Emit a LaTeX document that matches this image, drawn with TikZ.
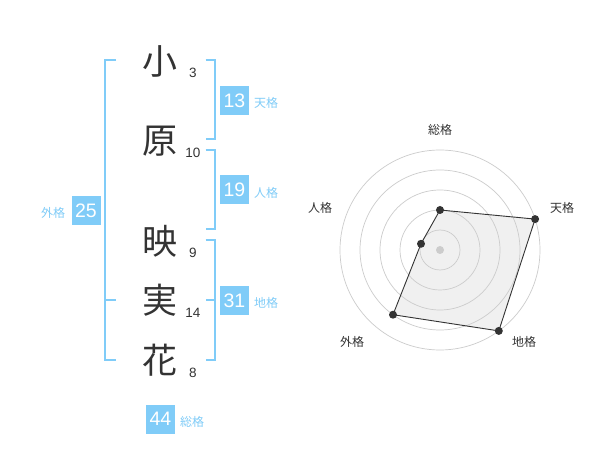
\documentclass[tikz,border=0pt]{standalone}
\usepackage{fontspec}
\setmainfont{Liberation Sans}
\newfontfamily\cjk{Noto Sans CJK JP}
\definecolor{kblue}{RGB}{128,204,248}
\definecolor{ktext}{RGB}{51,51,51}
\definecolor{kgrid}{RGB}{204,204,204}
\definecolor{kfill}{RGB}{240,240,240}
\begin{document}
\begin{tikzpicture}[x=1pt,y=-1pt,
  kanji/.style={font=\cjk\fontsize{35}{35}\selectfont,text=ktext,inner sep=0pt},
  strokes/.style={font=\fontsize{13.5}{13.5}\selectfont,text=ktext,inner sep=0pt},
  bracket/.style={draw=kblue,line width=2pt},
  scorebox/.style={fill=kblue,text=white,minimum width=29pt,minimum height=29pt,inner sep=0pt,font=\fontsize{19.5}{19.5}\selectfont},
  blabel/.style={text=kblue,font=\cjk\fontsize{12}{12}\selectfont,inner sep=0pt},
  rlabel/.style={text=ktext,font=\cjk\fontsize{12}{12}\selectfont,inner sep=0pt},
  ring/.style={draw=kgrid,line width=0.7pt},
  vdot/.style={circle,fill=ktext,inner sep=0pt,minimum size=8pt}]
\useasboundingbox[fill=white] (0,0) rectangle (600,470);
% characters
\node[kanji] (c1) at (160,61) {小};
\node[kanji] (c2) at (160,141) {原};
\node[kanji] (c3) at (160,241) {映};
\node[kanji] (c4) at (160,300.5) {実};
\node[kanji] (c5) at (160,360) {花};
\node[strokes] (n1) at (193,73) {3};
\node[strokes] (n2) at (193,153) {10};
\node[strokes] (n3) at (193,253) {9};
\node[strokes] (n4) at (193,313) {14};
\node[strokes] (n5) at (193,373) {8};
% left bracket (外格)
\coordinate (lt) at (116,60);
\coordinate (lb) at (116,360);
\coordinate (lm) at (116,300);
\draw[bracket] (lt) -- (105,60) -- (105,360) -- (lb);
\draw[bracket] (105,300) -- (lm);
\node[scorebox] (g) at (86,210.5) {25};
\node[blabel] (gl) at (53,213) {外格};
% 天格 bracket
\draw[bracket] (205.5,60) -- (215,60) -- (215,139.5) -- (205.5,139.5);
\node[scorebox] (t) at (234.5,100.5) {13};
\node[blabel] (tl) at (266,103) {天格};
% 人格 bracket
\draw[bracket] (205.5,150) -- (215,150) -- (215,229.5) -- (205.5,229.5);
\node[scorebox] (j) at (234.5,190) {19};
\node[blabel] (jl) at (266,193) {人格};
% 地格 bracket
\draw[bracket] (205.5,240) -- (215,240) -- (215,360) -- (205.5,360);
\draw[bracket] (215,300) -- (205.5,300);
\node[scorebox] (c) at (234.5,300.5) {31};
\node[blabel] (cl) at (266,303) {地格};
% 総格
\node[scorebox] (s) at (160.5,419) {44};
\node[blabel] (sl) at (192,422) {総格};
% radar
\coordinate (o) at (440,250);
\coordinate (p1) at (440,210);
\coordinate (p2) at (535.1,219.1);
\coordinate (p3) at (498.8,330.9);
\coordinate (p4) at (393.0,314.7);
\coordinate (p5) at (421.0,243.8);
\fill[kfill] (p1) -- (p2) -- (p3) -- (p4) -- (p5) -- cycle;
\foreach \r in {20,40,60,80,100} \draw[ring] (o) circle (\r);
\fill[kgrid] (o) circle (4);
\draw[draw=ktext,line width=0.9pt] (p1) -- (p2) -- (p3) -- (p4) -- (p5) -- cycle;
\foreach \p in {p1,p2,p3,p4,p5} \node[vdot] at (\p) {};
\node[rlabel] (r1) at (440,130) {総格};
\node[rlabel] (r2) at (562,208) {天格};
\node[rlabel] (r3) at (320,208) {人格};
\node[rlabel] (r4) at (352,342) {外格};
\node[rlabel] (r5) at (524,342) {地格};
\end{tikzpicture}
\end{document}
